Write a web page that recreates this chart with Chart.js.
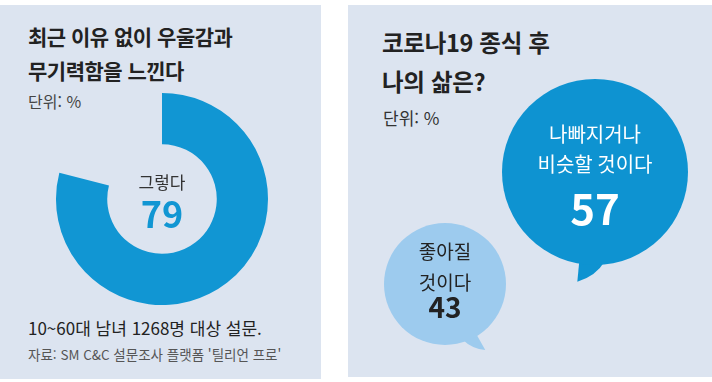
<!DOCTYPE html>
<html lang="ko">
<head>
<meta charset="utf-8">
<script src="https://cdn.jsdelivr.net/npm/chart.js@4.4.1/dist/chart.umd.min.js"></script>
<style>
  body { margin: 0; width: 712px; height: 382px; background: #fff; position: relative; overflow: hidden;
         font-family: 'Noto Sans CJK KR', 'Noto Sans', sans-serif; }
  .panel { position: absolute; background: #dce4f0; }
  .t { position: absolute; white-space: nowrap; line-height: 1.45; }
  canvas { position: absolute; }
</style>
</head>
<body>
<div class="panel" style="left:0;top:5px;width:321px;height:374px"></div>
<div class="panel" style="left:348px;top:5px;width:364px;height:372px"></div>

<div class="t" style="left:28px;top:19px;font-size:21px;line-height:34px;font-weight:700;letter-spacing:-0.5px;color:#222">최근 이유 없이 우울감과<br>무기력함을 느낀다</div>
<div class="t" style="left:28px;top:90px;font-size:16px;color:#444">단위: %</div>
<div class="t" style="left:28px;top:316px;font-size:17px;color:#222">10~60대 남녀 1268명 대상 설문.</div>
<div class="t" style="left:28px;top:345px;font-size:13.5px;color:#555">자료: SM C&amp;C 설문조사 플랫폼 '틸리언 프로'</div>

<div class="t" style="left:382px;top:23px;font-size:23.5px;line-height:39px;font-weight:700;letter-spacing:-0.3px;color:#222">코로나19 종식 후<br>나의 삶은?</div>
<div class="t" style="left:383px;top:106px;font-size:17px;color:#333">단위: %</div>

<canvas id="donut" width="240" height="240" style="left:42px;top:79px"></canvas>
<canvas id="bubbles" width="364" height="372" style="left:348px;top:5px"></canvas>

<script>
// left: 최근 이유 없이 우울감과 무기력함을 느낀다
const surveyLabels = ['그렇다', '그렇지 않다'];
const surveyValues = [79, 21];

// right: 코로나19 종식 후 나의 삶은?
const outlookLabels = [['나빠지거나', '비슷할 것이다'], ['좋아질', '것이다']];
const outlookValues = [57, 43];

const FONT = '"Noto Sans CJK KR", "Noto Sans", sans-serif';
const donutColors = ['#1196d3', 'rgba(0,0,0,0)'];
const bubbleColors = ['#0e93d1', '#9dcbee'];
const bubbleText = ['#ffffff', '#222222'];
// layout of the speech bubbles inside the right panel (canvas px)
const bubbleCenters = [[247, 167], [97, 279]];
const bubbleRadius = [93, 61];
// text layout per bubble: font sizes and baseline offsets from centre
const bubbleFonts = [{ label: 20, value: 42, lines: [-30, 0], num: 53 },
                     { label: 19, value: 28, lines: [-25, 6], num: 34 }];
// tails: base angles (deg), tip in radius units, control point fractions
const bubbleTails = [
  { a1: 100, a2: 84, tip: [-0.19, 1.18], c1: [0.5, 0.5], c2: [0.7, 0.3] },
  { a1: 72, a2: 58, tip: [0.66, 1.08], c1: [0.4, 0.9], c2: [0.5, 0.5] }
];

const centerText = {
  id: 'centerText',
  afterDraw(chart) {
    const ctx = chart.ctx;
    const a = chart.chartArea;
    const cx = (a.left + a.right) / 2, cy = (a.top + a.bottom) / 2;
    ctx.save();
    ctx.textAlign = 'center';
    ctx.textBaseline = 'alphabetic';
    ctx.fillStyle = '#333';
    ctx.font = '400 17px ' + FONT;
    ctx.fillText(surveyLabels[0], cx, cy - 10);
    ctx.fillStyle = donutColors[0];
    ctx.font = '700 36px ' + FONT;
    ctx.fillText(String(surveyValues[0]), cx, cy + 29);
    ctx.restore();
  }
};

new Chart(document.getElementById('donut'), {
  type: 'doughnut',
  data: {
    labels: surveyLabels,
    datasets: [{
      data: surveyValues,
      backgroundColor: donutColors,
      borderWidth: 0,
      hoverOffset: 0
    }]
  },
  options: {
    responsive: false,
    animation: false,
    events: [],
    radius: 106,
    cutout: 62,
    layout: { padding: 0 },
    plugins: { legend: { display: false }, tooltip: { enabled: false } }
  },
  plugins: [centerText]
});

const speech = {
  id: 'speech',
  beforeDatasetsDraw(chart) {
    const ctx = chart.ctx;
    chart.getDatasetMeta(0).data.forEach((pt, i) => {
      const r = pt.options.radius, t = bubbleTails[i];
      const A = [pt.x + r * 0.97 * Math.cos(t.a1 * Math.PI / 180), pt.y + r * 0.97 * Math.sin(t.a1 * Math.PI / 180)];
      const B = [pt.x + r * 0.97 * Math.cos(t.a2 * Math.PI / 180), pt.y + r * 0.97 * Math.sin(t.a2 * Math.PI / 180)];
      const T = [pt.x + r * t.tip[0], pt.y + r * t.tip[1]];
      ctx.save();
      ctx.fillStyle = bubbleColors[i];
      ctx.beginPath();
      ctx.moveTo(A[0], A[1]);
      ctx.quadraticCurveTo(A[0] + (T[0] - A[0]) * t.c1[0], A[1] + (T[1] - A[1]) * t.c1[1], T[0], T[1]);
      ctx.quadraticCurveTo(T[0] + (B[0] - T[0]) * t.c2[0], T[1] + (B[1] - T[1]) * t.c2[1], B[0], B[1]);
      ctx.lineTo(pt.x, pt.y);
      ctx.closePath();
      ctx.fill();
      ctx.restore();
    });
  },
  afterDatasetsDraw(chart) {
    const ctx = chart.ctx;
    chart.getDatasetMeta(0).data.forEach((pt, i) => {
      const f = bubbleFonts[i];
      ctx.save();
      ctx.textAlign = 'center';
      ctx.textBaseline = 'alphabetic';
      ctx.fillStyle = bubbleText[i];
      ctx.font = '400 ' + f.label + 'px ' + FONT;
      outlookLabels[i].forEach((line, k) => ctx.fillText(line, pt.x, pt.y + f.lines[k]));
      ctx.font = '700 ' + f.value + 'px ' + FONT;
      ctx.fillText(String(outlookValues[i]), pt.x, pt.y + f.num);
      ctx.restore();
    });
  }
};

// Chart.js pads the chart area by the largest bubble radius; set the
// scale bounds to match so that bubble centres land where laid out.
const pad = Math.max(...bubbleRadius);
const W = 364, H = 372;

new Chart(document.getElementById('bubbles'), {
  type: 'bubble',
  data: {
    labels: outlookLabels.map(l => l.join(' ')),
    datasets: [{
      data: outlookValues.map((v, i) => ({ x: bubbleCenters[i][0], y: bubbleCenters[i][1], r: bubbleRadius[i], v: v })),
      backgroundColor: bubbleColors,
      borderWidth: 0,
      hoverRadius: 0,
      clip: false
    }]
  },
  options: {
    responsive: false,
    animation: false,
    events: [],
    layout: { padding: 0 },
    scales: {
      x: { type: 'linear', min: pad, max: W - pad, display: false },
      y: { type: 'linear', min: pad, max: H - pad, reverse: true, display: false }
    },
    plugins: { legend: { display: false }, tooltip: { enabled: false } }
  },
  plugins: [speech]
});
</script>
</body>
</html>
